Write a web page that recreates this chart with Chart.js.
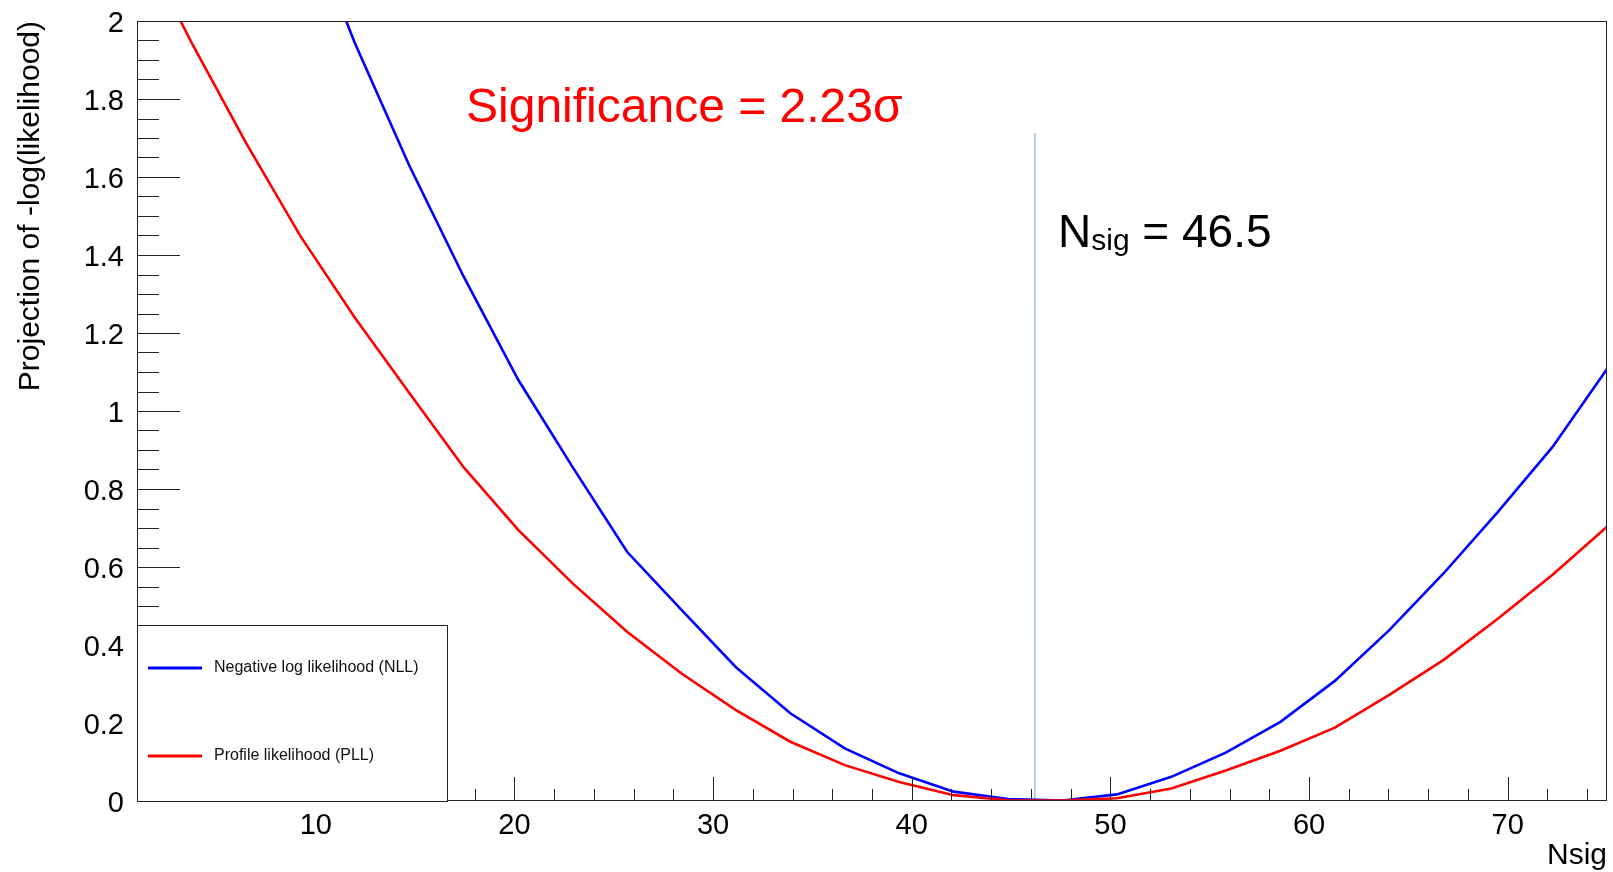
<!DOCTYPE html>
<html lang="en">
<head>
<meta charset="UTF-8">
<title>Nsig likelihood scan</title>
<script src="https://cdn.jsdelivr.net/npm/chart.js@4.4.0/dist/chart.umd.min.js"></script>
<style>
  html, body { margin: 0; padding: 0; background: #fff; }
  canvas { display: block; }
</style>
</head>
<body>
<canvas id="scan" width="1613" height="872"></canvas>
<script>
// scan points along Nsig
const nsig = [1.00, 3.74, 6.48, 9.22, 11.96, 14.70, 17.44, 20.19, 22.93, 25.67, 28.41, 31.15, 33.89, 36.63,
              39.37, 42.11, 44.85, 47.59, 50.33, 53.07, 55.81, 58.56, 61.30, 64.04, 66.78, 69.52, 72.26, 75.00];
const nll = [3.59, 3.12, 2.69, 2.30, 1.944, 1.630, 1.345, 1.080, 0.856, 0.639, 0.490, 0.343, 0.225, 0.135,
             0.071, 0.024, 0.005, 0.001, 0.017, 0.062, 0.124, 0.203, 0.308, 0.438, 0.584, 0.742, 0.908, 1.108];
const pll = [2.22, 1.945, 1.688, 1.449, 1.240, 1.047, 0.856, 0.695, 0.558, 0.434, 0.327, 0.233, 0.152, 0.092,
             0.049, 0.015, 0.002, 0.001, 0.007, 0.032, 0.078, 0.129, 0.188, 0.272, 0.362, 0.468, 0.580, 0.703];

// best-fit marker
const bestX = [46.2, 46.2];
const bestY = [0, 1.713];

const xTickValues = [10, 20, 30, 40, 50, 60, 70];
const yTickValues = [0, 0.2, 0.4, 0.6, 0.8, 1, 1.2, 1.4, 1.6, 1.8, 2];

const legendLabels = ['Negative log likelihood (NLL)', 'Profile likelihood (PLL)'];
const legendColors = ['#0000ff', '#ff0000'];

const FONT = '"Liberation Sans", Arial, Helvetica, sans-serif';
Chart.defaults.font.family = FONT;
Chart.defaults.color = '#000';

function pts(xs, ys) {
    return xs.map((v, i) => ({x: v, y: ys[i]}));
}

// ROOT-like frame, inside ticks, legend box and text labels
const rootDecor = {
    id: 'rootDecor',
    afterDatasetsDraw(chart) {
        const {ctx, chartArea: a, scales: {x, y}} = chart;
        ctx.save();
        ctx.strokeStyle = '#222';
        ctx.lineWidth = 1;
        ctx.beginPath();
        for (let v = 2; v < 75; v += 2) {
            const px = Math.round(x.getPixelForValue(v)) + 0.5;
            const len = v % 10 === 0 ? 24 : 12;
            ctx.moveTo(px, a.bottom);
            ctx.lineTo(px, a.bottom - len);
        }
        for (let i = 1; i < 40; i++) {
            const py = Math.round(y.getPixelForValue(i * 0.05)) + 0.5;
            const len = i % 4 === 0 ? 43 : 22;
            ctx.moveTo(a.left, py);
            ctx.lineTo(a.left + len, py);
        }
        ctx.stroke();
        ctx.strokeRect(a.left + 0.5, a.top + 0.5, a.width - 1, a.height - 1);
        ctx.restore();
    },
    afterDraw(chart) {
        const {ctx, chartArea: a} = chart;
        ctx.save();

        // legend
        const lx = a.left, ly = 625, lw = 310, lh = a.bottom - 625;
        ctx.fillStyle = '#fff';
        ctx.fillRect(lx, ly, lw, lh);
        ctx.strokeStyle = '#222';
        ctx.lineWidth = 1;
        ctx.strokeRect(lx + 0.5, ly + 0.5, lw, lh);
        const rows = [668, 756];
        ctx.font = '16px ' + FONT;
        ctx.textBaseline = 'middle';
        legendLabels.forEach((t, i) => {
            ctx.strokeStyle = legendColors[i];
            ctx.lineWidth = 3;
            ctx.beginPath();
            ctx.moveTo(lx + 11, rows[i]);
            ctx.lineTo(lx + 65, rows[i]);
            ctx.stroke();
            ctx.fillStyle = '#111';
            ctx.fillText(t, lx + 77, rows[i]);
        });

        // annotations
        ctx.textBaseline = 'alphabetic';
        ctx.fillStyle = '#ff0000';
        ctx.font = '48px ' + FONT;
        ctx.fillText('Significance = 2.23\u03c3', 466, 122);

        ctx.fillStyle = '#000';
        ctx.font = '46px ' + FONT;
        let tx = 1058;
        ctx.fillText('N', tx, 247);
        tx += ctx.measureText('N').width;
        ctx.font = '30px ' + FONT;
        ctx.fillText('sig', tx, 250);
        tx += ctx.measureText('sig').width;
        ctx.font = '46px ' + FONT;
        ctx.fillText(' = 46.5', tx, 247);

        ctx.restore();
    }
};

new Chart(document.getElementById('scan'), {
    type: 'line',
    data: {
        datasets: [
            {
                label: 'NLL',
                data: pts(nsig, nll),
                borderColor: '#0000ff',
                borderWidth: 2.6,
                pointRadius: 0,
                tension: 0,
                order: 1
            },
            {
                label: 'PLL',
                data: pts(nsig, pll),
                borderColor: '#ff0000',
                borderWidth: 2.6,
                pointRadius: 0,
                tension: 0,
                order: 0
            },
            {
                label: 'best',
                data: pts(bestX, bestY),
                borderColor: '#6f9fdf',
                borderWidth: 1,
                pointRadius: 0,
                order: 2
            }
        ]
    },
    options: {
        responsive: false,
        animation: false,
        events: [],
        layout: {padding: {left: 0, top: 21, right: 6, bottom: 0}},
        plugins: {legend: {display: false}, tooltip: {enabled: false}},
        scales: {
            x: {
                type: 'linear',
                min: 1,
                max: 75,
                grid: {display: false},
                border: {display: false},
                afterBuildTicks: s => { s.ticks = xTickValues.map(v => ({value: v})); },
                afterFit: s => { s.height = 71; s.paddingLeft = 0; s.paddingRight = 0; },
                ticks: {font: {size: 29}, padding: 0, maxRotation: 0, autoSkip: false},
                title: {display: true, text: 'Nsig', align: 'end', font: {size: 30}, padding: {top: 0, bottom: -2}}
            },
            y: {
                type: 'linear',
                min: 0,
                max: 2,
                grid: {display: false},
                border: {display: false},
                afterBuildTicks: s => { s.ticks = yTickValues.map(v => ({value: v})); },
                afterFit: s => { s.width = 137; s.paddingTop = 0; s.paddingBottom = 0; },
                ticks: {font: {size: 29}, padding: 5, labelOffset: 3, callback: v => String(+v.toFixed(1))},
                title: {display: true, text: 'Projection of -log(likelihood)', align: 'end', font: {size: 30}, padding: {top: 13, bottom: 0}}
            }
        }
    },
    plugins: [rootDecor]
});
</script>
</body>
</html>
